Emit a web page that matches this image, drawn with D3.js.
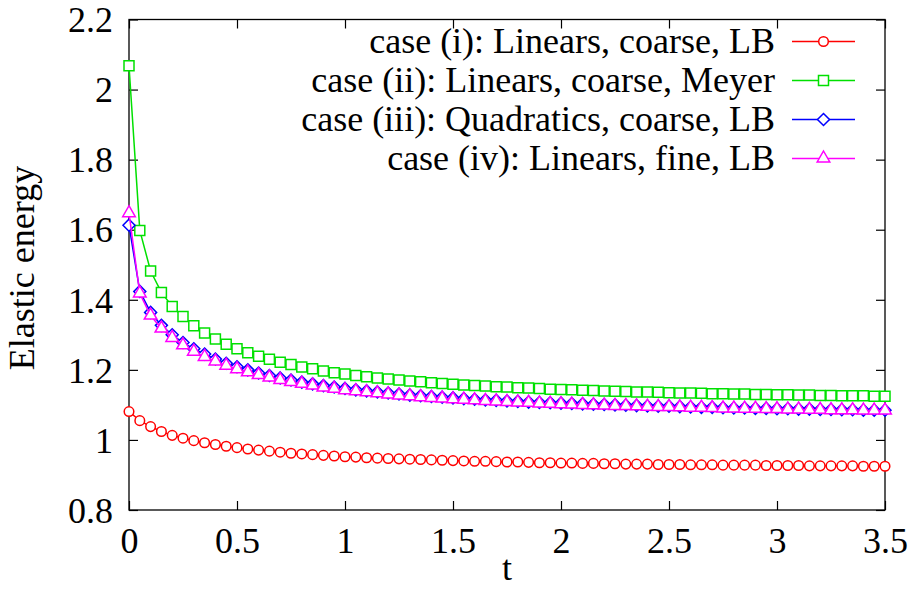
<!DOCTYPE html>
<html>
<head>
<meta charset="utf-8">
<script src="https://cdn.jsdelivr.net/npm/d3@7"></script>
<style>
  body { margin: 0; background: #fff; }
  svg { display: block; }
  svg text { font-family: "Liberation Serif", "Times New Roman", serif; }
</style>
</head>
<body>
<svg id="chart" width="912" height="589"></svg>
<script>
// time grid: 0 .. 3.5 in steps of 0.05 (71 samples)
const tValues = d3.range(71).map(i => +(i * 0.05).toFixed(2));

const caseLinearCoarseLB = [
  1.081, 1.055, 1.038, 1.024, 1.013, 1.005, 0.998, 0.992, 0.987, 0.982,
  0.978, 0.974, 0.971, 0.968, 0.965, 0.962, 0.960, 0.958, 0.956, 0.954,
  0.952, 0.951, 0.949, 0.948, 0.947, 0.946, 0.945, 0.944, 0.943, 0.942,
  0.941, 0.940, 0.939, 0.939, 0.938, 0.937, 0.937, 0.936, 0.935, 0.935,
  0.934, 0.934, 0.933, 0.933, 0.932, 0.932, 0.931, 0.931, 0.931, 0.930,
  0.930, 0.930, 0.929, 0.929, 0.929, 0.928, 0.928, 0.928, 0.928, 0.927,
  0.927, 0.927, 0.927, 0.926, 0.926, 0.926, 0.926, 0.926, 0.925, 0.925,
  0.925
];
const caseLinearCoarseMeyer = [
  2.068, 1.598, 1.482, 1.421, 1.381, 1.352, 1.326, 1.305, 1.288, 1.273,
  1.260, 1.249, 1.239, 1.230, 1.222, 1.215, 1.208, 1.203, 1.197, 1.192,
  1.188, 1.184, 1.180, 1.177, 1.174, 1.171, 1.168, 1.166, 1.163, 1.161,
  1.159, 1.157, 1.155, 1.154, 1.152, 1.151, 1.149, 1.148, 1.147, 1.145,
  1.144, 1.143, 1.142, 1.141, 1.140, 1.139, 1.138, 1.137, 1.137, 1.136,
  1.135, 1.134, 1.134, 1.133, 1.132, 1.132, 1.131, 1.131, 1.130, 1.130,
  1.129, 1.129, 1.128, 1.128, 1.127, 1.127, 1.126, 1.126, 1.126, 1.125,
  1.125
];
const caseQuadraticCoarseLB = [
  1.613, 1.424, 1.364, 1.327, 1.300, 1.278, 1.260, 1.245, 1.231, 1.219,
  1.209, 1.200, 1.191, 1.184, 1.177, 1.171, 1.165, 1.160, 1.155, 1.151,
  1.147, 1.143, 1.140, 1.137, 1.134, 1.131, 1.128, 1.126, 1.124, 1.122,
  1.120, 1.118, 1.116, 1.114, 1.113, 1.111, 1.110, 1.108, 1.107, 1.106,
  1.105, 1.104, 1.103, 1.102, 1.101, 1.100, 1.099, 1.098, 1.097, 1.096,
  1.096, 1.095, 1.094, 1.093, 1.093, 1.092, 1.091, 1.091, 1.090, 1.090,
  1.089, 1.089, 1.088, 1.088, 1.087, 1.087, 1.086, 1.086, 1.085, 1.085,
  1.085
];
const caseLinearFineLB = [
  1.647, 1.418, 1.355, 1.318, 1.291, 1.270, 1.252, 1.237, 1.224, 1.212,
  1.202, 1.193, 1.185, 1.178, 1.171, 1.165, 1.160, 1.155, 1.150, 1.146,
  1.142, 1.139, 1.136, 1.133, 1.130, 1.127, 1.125, 1.122, 1.120, 1.118,
  1.116, 1.115, 1.113, 1.111, 1.110, 1.108, 1.107, 1.106, 1.104, 1.103,
  1.102, 1.101, 1.100, 1.099, 1.098, 1.097, 1.097, 1.096, 1.095, 1.094,
  1.094, 1.093, 1.092, 1.092, 1.091, 1.090, 1.090, 1.089, 1.089, 1.088,
  1.088, 1.087, 1.087, 1.086, 1.086, 1.085, 1.085, 1.085, 1.084, 1.084,
  1.084
];

const xTicks = [0, 0.5, 1, 1.5, 2, 2.5, 3, 3.5];
const yTicks = [0.8, 1, 1.2, 1.4, 1.6, 1.8, 2, 2.2];

const seriesList = [
  { label: "case (i): Linears, coarse, LB", values: caseLinearCoarseLB, color: "#ff0000", symbol: "circle" },
  { label: "case (ii): Linears, coarse, Meyer", values: caseLinearCoarseMeyer, color: "#00e000", symbol: "square" },
  { label: "case (iii): Quadratics, coarse, LB", values: caseQuadraticCoarseLB, color: "#0000ff", symbol: "diamond" },
  { label: "case (iv): Linears, fine, LB", values: caseLinearFineLB, color: "#ff00ff", symbol: "triangle" }
];

const margin = { top: 19.5, right: 27, bottom: 79, left: 129 };
const width = 912, height = 589;
const plotW = width - margin.left - margin.right;
const plotH = height - margin.top - margin.bottom;
const fontSize = "36px";

const svg = d3.select("#chart");
const g = svg.append("g").attr("transform", `translate(${margin.left},${margin.top})`);

const x = d3.scaleLinear().domain([0, 3.5]).range([0, plotW]);
const y = d3.scaleLinear().domain([0.8, 2.2]).range([plotH, 0]);

const fmt = d => String(+d.toFixed(1));
const tickLen = 9;

// bottom + left axes with labels, ticks pointing inwards
const xAxis = g.append("g")
  .attr("transform", `translate(0,${plotH})`)
  .call(d3.axisBottom(x).tickValues(xTicks).tickFormat(fmt).tickSize(-tickLen).tickPadding(43));
const yAxis = g.append("g")
  .call(d3.axisLeft(y).tickValues(yTicks).tickFormat(fmt).tickSize(-tickLen).tickPadding(16));
// mirrored ticks on top + right
const xTop = g.append("g")
  .call(d3.axisTop(x).tickValues(xTicks).tickFormat("").tickSize(-tickLen));
const yRight = g.append("g")
  .attr("transform", `translate(${plotW},0)`)
  .call(d3.axisRight(y).tickValues(yTicks).tickFormat("").tickSize(-tickLen));

[xAxis, yAxis, xTop, yRight].forEach(a => {
  a.attr("font-family", null).attr("font-size", null);
  a.select(".domain").remove();
  a.selectAll("line").attr("stroke", "#000").attr("stroke-width", 1.2);
});
xAxis.selectAll("text").style("font-size", fontSize).attr("fill", "#000").attr("dy", "0");
yAxis.selectAll("text").style("font-size", fontSize).attr("fill", "#000").attr("dy", "0.34em");

g.append("rect")
  .attr("width", plotW).attr("height", plotH)
  .attr("fill", "none").attr("stroke", "#000").attr("stroke-width", 1.3);

// marker paths, centred at 0,0
function symbolPath(type) {
  switch (type) {
    case "circle": return "M4.8,0A4.8,4.8 0 1,1 -4.8,0A4.8,4.8 0 1,1 4.8,0Z";
    case "square": return "M-5,-5H5V5H-5Z";
    case "diamond": return "M0,-6L6,0L0,6L-6,0Z";
    case "triangle": return "M0,-7.5L6.3,3.5L-6.3,3.5Z";
  }
}

const line = d3.line().x(d => x(d[0])).y(d => y(d[1]));

seriesList.forEach(s => {
  const pts = tValues.map((t, i) => [t, s.values[i]]);
  const sg = g.append("g");
  sg.append("path")
    .attr("d", line(pts))
    .attr("fill", "none")
    .attr("stroke", s.color)
    .attr("stroke-width", 1.5);
  sg.selectAll("path.pt")
    .data(pts)
    .enter().append("path")
    .attr("class", "pt")
    .attr("transform", d => `translate(${x(d[0])},${y(d[1])})`)
    .attr("d", symbolPath(s.symbol))
    .attr("fill", "#fff")
    .attr("stroke", s.color)
    .attr("stroke-width", 1.5);
});

// legend (top right, inside the frame)
const legend = svg.append("g");
seriesList.forEach((s, i) => {
  const ly = 41.5 + i * 39;
  legend.append("text")
    .attr("x", 775).attr("y", ly)
    .attr("dy", "0.33em")
    .attr("text-anchor", "end")
    .style("font-size", fontSize)
    .text(s.label);
  legend.append("line")
    .attr("x1", 792).attr("x2", 855)
    .attr("y1", ly).attr("y2", ly)
    .attr("stroke", s.color).attr("stroke-width", 1.5);
  legend.append("path")
    .attr("transform", `translate(823.5,${ly})`)
    .attr("d", symbolPath(s.symbol))
    .attr("fill", "#fff")
    .attr("stroke", s.color)
    .attr("stroke-width", 1.5);
});

// axis titles
svg.append("text")
  .attr("x", margin.left + plotW / 2).attr("y", 580)
  .attr("text-anchor", "middle")
  .style("font-size", fontSize)
  .text("t");
svg.append("text")
  .attr("transform", `translate(34,268) rotate(-90)`)
  .attr("text-anchor", "middle")
  .style("font-size", fontSize)
  .text("Elastic energy");
</script>
</body>
</html>
